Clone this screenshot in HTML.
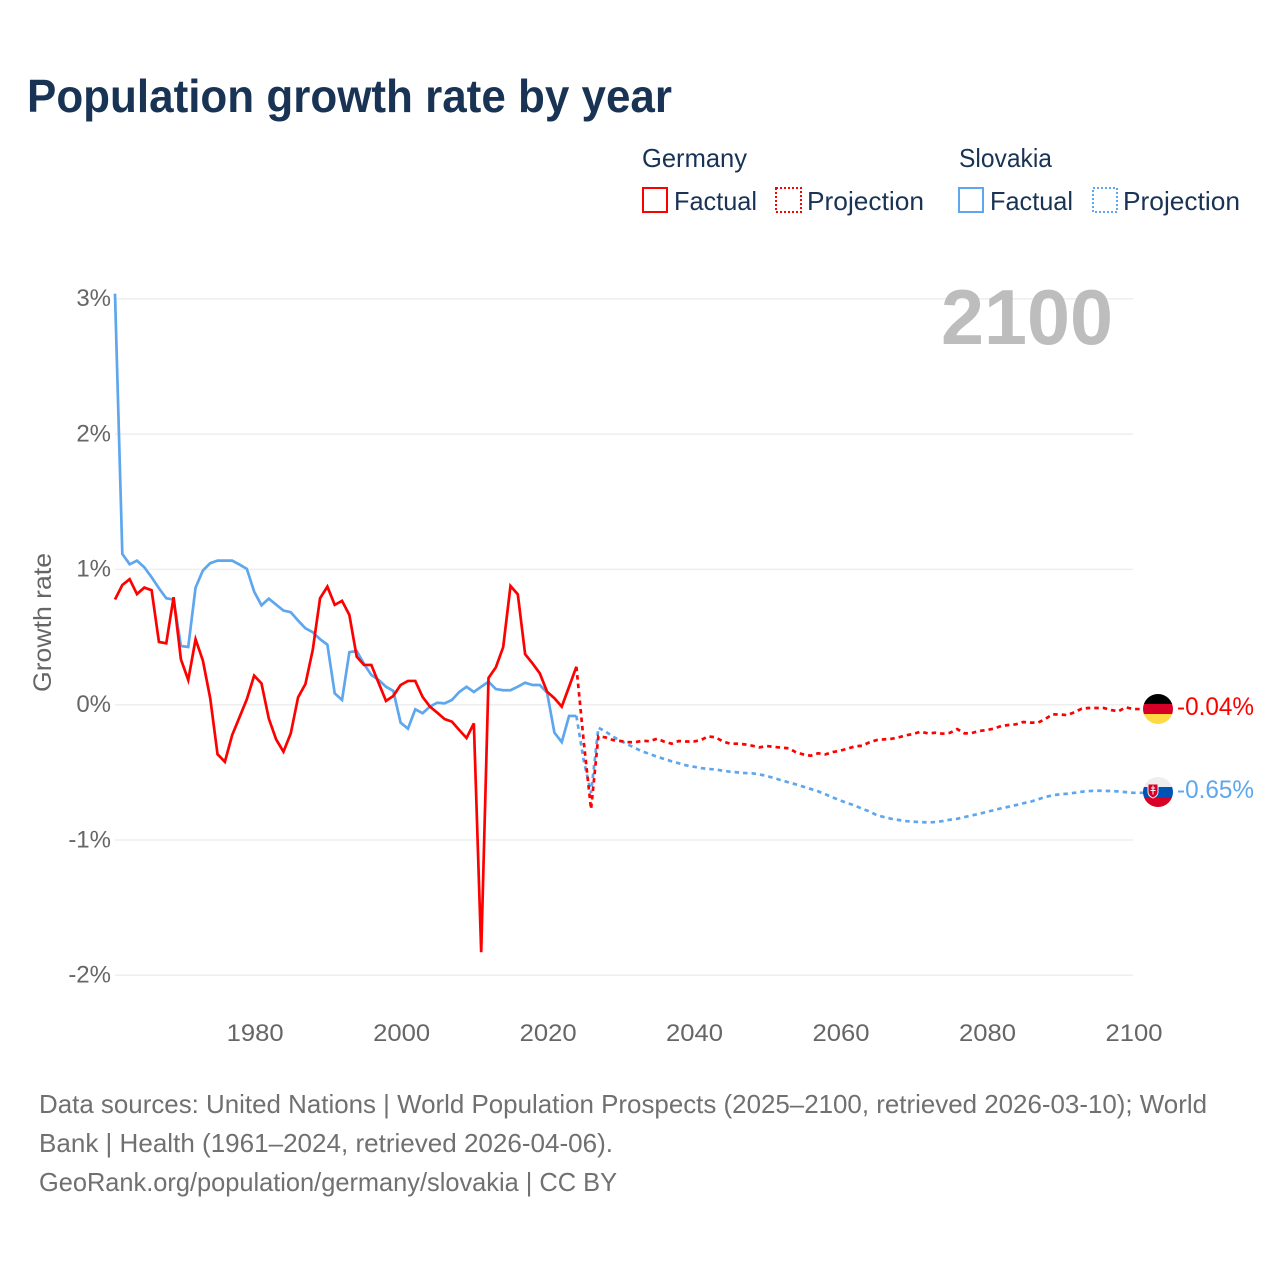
<!DOCTYPE html>
<html lang="en">
<head>
<meta charset="utf-8">
<title>Population growth rate by year</title>
<style>
html,body{margin:0;padding:0;background:#fff;}
svg{display:block;font-family:"Liberation Sans",sans-serif;}
</style>
</head>
<body>
<svg id="chart" width="1280" height="1280" viewBox="0 0 1280 1280" xmlns="http://www.w3.org/2000/svg">
  <rect x="0" y="0" width="1280" height="1280" fill="#ffffff"/>
  <text x="27" y="112" font-size="46" font-weight="700" fill="#193355" textLength="645" lengthAdjust="spacingAndGlyphs">Population growth rate by year</text>

  <g font-size="26" fill="#193355">
    <text x="642" y="167" textLength="105" lengthAdjust="spacingAndGlyphs">Germany</text>
    <text x="959" y="167" textLength="93" lengthAdjust="spacingAndGlyphs">Slovakia</text>
    <rect x="643" y="188" width="24" height="24" fill="none" stroke="#ff0000" stroke-width="2"/>
    <text x="674" y="210" textLength="83" lengthAdjust="spacingAndGlyphs">Factual</text>
    <rect x="776" y="188" width="25" height="24" fill="none" stroke="#ff0000" stroke-width="2" stroke-dasharray="2 2"/>
    <text x="807" y="210" textLength="117" lengthAdjust="spacingAndGlyphs">Projection</text>
    <rect x="959" y="188" width="24" height="24" fill="none" stroke="#5ea6ee" stroke-width="2"/>
    <text x="990" y="210" textLength="83" lengthAdjust="spacingAndGlyphs">Factual</text>
    <rect x="1093" y="188" width="24" height="24" fill="none" stroke="#5ea6ee" stroke-width="2" stroke-dasharray="2 2"/>
    <text x="1123" y="210" textLength="117" lengthAdjust="spacingAndGlyphs">Projection</text>
  </g>

  <g id="grid"></g>
  <text x="941" y="344" font-size="78" font-weight="700" fill="#bdbdbd" textLength="172" lengthAdjust="spacingAndGlyphs">2100</text>
  <g id="yTicks" font-size="24" fill="#666666" text-anchor="end"></g>
  <g id="xTicks" font-size="24" fill="#666666" text-anchor="middle"></g>
  <text transform="translate(51 692) rotate(-90)" x="0" y="0" font-size="25" fill="#666666" textLength="139" lengthAdjust="spacingAndGlyphs">Growth rate</text>

  <g id="series"></g>

  <defs>
    <clipPath id="flagClipDe"><circle cx="1158" cy="709" r="15"/></clipPath>
    <clipPath id="flagClipSk"><circle cx="1158" cy="792" r="15"/></clipPath>
  </defs>
  <g clip-path="url(#flagClipDe)">
    <rect x="1143" y="694" width="30" height="10" fill="#000000"/>
    <rect x="1143" y="704" width="30" height="10" fill="#d80027"/>
    <rect x="1143" y="714" width="30" height="10" fill="#ffda44"/>
  </g>
  <g clip-path="url(#flagClipSk)">
    <rect x="1143" y="777" width="30" height="10" fill="#eeeeee"/>
    <rect x="1143" y="787" width="30" height="10" fill="#0052b4"/>
    <rect x="1143" y="797" width="30" height="10" fill="#d80027"/>
    <path d="M1148 784h10v8q0 4-5 6q-5-2-5-6z" fill="#d80027" stroke="#eeeeee" stroke-width="1"/>
    <path d="M1153 785.500v9M1151 788h4M1150.500 790.500h5" stroke="#ffffff" stroke-width="1" fill="none"/>
  </g>
  <text x="1177" y="715" font-size="25" fill="#ff0000" textLength="77" lengthAdjust="spacingAndGlyphs">-0.04%</text>
  <text x="1177" y="798" font-size="25" fill="#5ea6ee" textLength="77" lengthAdjust="spacingAndGlyphs">-0.65%</text>

  <g font-size="26" fill="#707070">
    <text x="39" y="1113" textLength="1168" lengthAdjust="spacingAndGlyphs">Data sources: United Nations | World Population Prospects (2025–2100, retrieved 2026-03-10); World</text>
    <text x="39" y="1152" textLength="574" lengthAdjust="spacingAndGlyphs">Bank | Health (1961–2024, retrieved 2026-04-06).</text>
    <text x="39" y="1191" textLength="578" lengthAdjust="spacingAndGlyphs">GeoRank.org/population/germany/slovakia | CC BY</text>
  </g>
</svg>
<script>
const firstFactualYear = 1961;
const firstProjectionYear = 2024;
const lastYear = 2100;
const yTickValues = [3, 2, 1, 0, -1, -2];
const yTickLabels = ["3%", "2%", "1%", "0%", "-1%", "-2%"];
const xTickValues = [1980, 2000, 2020, 2040, 2060, 2080, 2100];
const xTickLabels = ["1980", "2000", "2020", "2040", "2060", "2080", "2100"];

const germanyFactual = [
  0.78, 0.887, 0.93, 0.82, 0.868, 0.848, 0.466, 0.456, 0.797, 0.338,
  0.185, 0.486, 0.328, 0.05, -0.364, -0.42, -0.222, -0.09, 0.042, 0.217,
  0.16, -0.1, -0.254, -0.345, -0.21, 0.057, 0.155, 0.407, 0.789, 0.875,
  0.74, 0.77, 0.666, 0.357, 0.296, 0.296, 0.163, 0.03, 0.067, 0.148,
  0.178, 0.178, 0.06, -0.012, -0.057, -0.104, -0.123, -0.185, -0.244, -0.136,
  -1.827, 0.2, 0.278, 0.427, 0.88, 0.818, 0.375, 0.308, 0.234, 0.098,
  0.05, -0.012, 0.135, 0.283
];
const germanyProjection = [
  0.283, -0.27, -0.77, -0.23, -0.24, -0.259, -0.266, -0.274, -0.276, -0.264,
  -0.268, -0.249, -0.271, -0.286, -0.266, -0.27, -0.27, -0.259, -0.232, -0.239,
  -0.269, -0.286, -0.286, -0.291, -0.301, -0.313, -0.303, -0.31, -0.315, -0.32,
  -0.35, -0.365, -0.375, -0.357, -0.365, -0.348, -0.338, -0.323, -0.306, -0.301,
  -0.276, -0.259, -0.254, -0.25, -0.239, -0.224, -0.214, -0.197, -0.21, -0.205,
  -0.212, -0.206, -0.178, -0.21, -0.207, -0.192, -0.185, -0.175, -0.155, -0.148,
  -0.143, -0.126, -0.13, -0.131, -0.104, -0.069, -0.07, -0.075, -0.054, -0.027,
  -0.022, -0.022, -0.022, -0.037, -0.047, -0.017, -0.03
];
const slovakiaFactual = [
  3.04, 1.117, 1.04, 1.067, 1.018, 0.944, 0.863, 0.789, 0.779, 0.436,
  0.429, 0.868, 0.994, 1.048, 1.067, 1.067, 1.067, 1.038, 1.006, 0.838,
  0.737, 0.786, 0.742, 0.698, 0.686, 0.624, 0.567, 0.538, 0.486, 0.446,
  0.086, 0.037, 0.39, 0.399, 0.303, 0.222, 0.185, 0.135, 0.104, -0.131,
  -0.175, -0.032, -0.061, -0.012, 0.017, 0.012, 0.037, 0.096, 0.135, 0.096,
  0.135, 0.172, 0.118, 0.109, 0.109, 0.135, 0.165, 0.148, 0.148, 0.091,
  -0.205, -0.274, -0.081, -0.081
];
const slovakiaProjection = [
  -0.081, -0.41, -0.65, -0.168, -0.197, -0.234, -0.264, -0.291, -0.318, -0.343,
  -0.362, -0.382, -0.399, -0.416, -0.431, -0.446, -0.456, -0.466, -0.473, -0.476,
  -0.486, -0.493, -0.498, -0.503, -0.505, -0.513, -0.525, -0.54, -0.557, -0.572,
  -0.587, -0.604, -0.621, -0.638, -0.66, -0.683, -0.705, -0.725, -0.742, -0.767,
  -0.786, -0.814, -0.828, -0.841, -0.85, -0.858, -0.863, -0.865, -0.868, -0.865,
  -0.858, -0.848, -0.841, -0.828, -0.816, -0.804, -0.791, -0.777, -0.764, -0.752,
  -0.74, -0.727, -0.715, -0.698, -0.68, -0.668, -0.66, -0.656, -0.649, -0.641,
  -0.636, -0.634, -0.634, -0.636, -0.639, -0.644, -0.649
];

const NS = "http://www.w3.org/2000/svg";
function xScale(year) { return 115 + (year - 1961) * (1133 - 115) / (2100 - 1961); }
function yScale(value) { return 705 - value * 135.3; }
function linePath(startYear, values) {
  return values.map(function (v, i) {
    return (i ? "L" : "M") + xScale(startYear + i).toFixed(2) + " " + yScale(v).toFixed(2);
  }).join(" ");
}

const grid = document.getElementById("grid");
const yTicks = document.getElementById("yTicks");
const xTicks = document.getElementById("xTicks");
const series = document.getElementById("series");

yTickValues.forEach(function (v, i) {
  const rule = document.createElementNS(NS, "line");
  
  
  rule.setAttribute("x1", 115);
  rule.setAttribute("x2", 1133);
  rule.setAttribute("y1", yScale(v) - 0.3);
  rule.setAttribute("y2", yScale(v) - 0.3);
  rule.setAttribute("stroke", "#eeeeee");
  rule.setAttribute("stroke-width", "1.5");
  grid.appendChild(rule);

  const label = document.createElementNS(NS, "text");
  
  
  label.setAttribute("x", 111);
  label.setAttribute("y", yScale(v) + 7);
  label.textContent = yTickLabels[i];
  yTicks.appendChild(label);
});

xTickValues.forEach(function (year, i) {
  const label = document.createElementNS(NS, "text");
  
  
  label.setAttribute("x", xScale(year) + 1);
  label.setAttribute("y", 1041);
  label.setAttribute("textLength", "57");
  label.setAttribute("lengthAdjust", "spacingAndGlyphs");
  label.textContent = xTickLabels[i];
  xTicks.appendChild(label);
});

function addLine(name, d, color, dash) {
  const p = document.createElementNS(NS, "path");
  
  
  p.setAttribute("d", d);
  p.setAttribute("fill", "none");
  p.setAttribute("stroke", color);
  p.setAttribute("stroke-width", "2.7");
  p.setAttribute("stroke-linejoin", "miter");
  if (dash) p.setAttribute("stroke-dasharray", dash);
  series.appendChild(p);
}

addLine('slovakia-factual-line', linePath(firstFactualYear, slovakiaFactual), "#5ea6ee", null);
addLine('germany-factual-line', linePath(firstFactualYear, germanyFactual), "#ff0000", null);
addLine('slovakia-projection-line',
  linePath(firstProjectionYear, slovakiaProjection) + " L1158 " + yScale(slovakiaProjection[lastYear - firstProjectionYear]).toFixed(2),
  "#5ea6ee", "4.500 4");
addLine('germany-projection-line',
  linePath(firstProjectionYear, germanyProjection) + " L1158 " + yScale(germanyProjection[lastYear - firstProjectionYear]).toFixed(2),
  "#ff0000", "4.500 4");
</script>
</body>
</html>
